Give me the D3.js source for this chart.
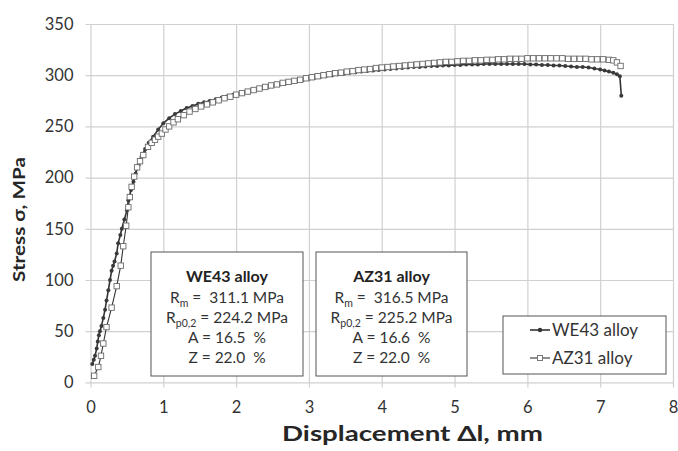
<!DOCTYPE html>
<html><head><meta charset="utf-8">
<script src="https://cdn.jsdelivr.net/npm/d3@7"></script>
<style>
html,body{margin:0;padding:0;background:#fff;}
svg{display:block;font-family:Lato,"Open Sans","DejaVu Sans",sans-serif;}
text{white-space:pre;}
</style></head>
<body>
<svg id="chart" width="678" height="451"></svg>
<script>
// ---- data ----
const xTicks = [0,1,2,3,4,5,6,7,8];
const yTicks = [0,50,100,150,200,250,300,350];
const xTitle = "Displacement Δl, mm";
const yTitle = "Stress σ, MPa";
const seriesNames = ["WE43 alloy","AZ31 alloy"];

const we43 = [
[0.025,18],[0.045,22],[0.062,26],[0.085,33],[0.10,40],[0.115,46],[0.13,50],[0.15,55],[0.176,63],[0.20,71],[0.22,80],[0.245,90],[0.268,100],[0.29,109],[0.31,114],[0.33,118],[0.36,126],[0.38,136],[0.41,144],[0.43,150],[0.465,159],[0.50,168],[0.52,178],[0.556,188],[0.59,196],[0.62,204],[0.66,212],[0.70,220],[0.75,228],[0.80,234],[0.86,240],[0.93,247],[1.00,253],
[1.08,258],[1.16,262],[1.24,265],[1.32,268],[1.40,270],[1.48,272],[1.56,273.5],[1.64,275],[1.72,276.5],[1.80,278],[1.88,279.5],[1.96,281],[2.04,282],[2.12,283.5],[2.20,285],[2.28,286],[2.36,287.5],[2.44,288.5],[2.52,290],[2.60,291],[2.68,292],[2.76,293.5],[2.84,294.5],[2.92,295.5],[3.00,296.5],[3.08,297.5],[3.16,298.5],[3.24,299.5],[3.32,300],[3.40,301],[3.48,301.5],[3.56,302.5],[3.64,303],[3.72,303.5],[3.80,304],[3.88,304.5],[3.96,305],[4.04,305.5],[4.12,306],[4.20,306.5],[4.28,307],[4.36,307.5],[4.44,308],[4.52,308],[4.60,308.5],[4.68,309],[4.76,309],[4.84,309.5],[4.92,309.5],[5.00,310],[5.08,310],[5.16,310.5],[5.24,310.5],[5.32,310.5],[5.40,311],[5.48,311],[5.56,311],[5.64,311],[5.72,311],[5.80,311],[5.88,311],[5.96,311],[6.04,310.5],[6.12,310.5],[6.20,310],[6.28,310],[6.36,309.5],[6.44,309.5],[6.52,309],[6.60,308.5],[6.68,308],[6.76,308],[6.84,307.5],[6.92,306.5],[7.00,305.5],[7.06,304.5],[7.12,303.5],[7.18,302.5],[7.23,301],[7.27,299],[7.29,280]
];

const az31 = [
[0.05,6.5],[0.107,15],[0.144,26],[0.176,38],[0.22,54],[0.29,73],[0.36,94],[0.415,114],[0.45,133],[0.49,153],[0.52,171],[0.54,181],[0.565,191],[0.60,201],[0.64,210],[0.68,216],[0.725,222],[0.79,230],[0.84,234],[0.886,237],[0.93,240],[0.98,243],[1.03,247],[1.08,250],[1.14,254],[1.20,257],
[1.28,261],[1.36,264.5],[1.44,267],[1.52,269.5],[1.60,271.5],[1.68,273.5],[1.76,275.5],[1.84,277.5],[1.92,279],[2.00,281],[2.08,282.5],[2.16,284],[2.24,285.5],[2.32,287],[2.40,288.5],[2.48,290],[2.56,291],[2.64,292.5],[2.72,293.5],[2.80,294.5],[2.88,295.5],[2.96,297],[3.04,298],[3.12,299],[3.20,300],[3.28,301],[3.36,302],[3.44,302.5],[3.52,303.5],[3.60,304],[3.68,305],[3.76,305.5],[3.84,306],[3.92,307],[4.00,307.5],[4.08,308],[4.16,308.5],[4.24,309],[4.32,309.5],[4.40,310],[4.48,310.5],[4.56,311],[4.64,311.5],[4.72,312],[4.80,312.5],[4.88,313],[4.96,313],[5.04,313.5],[5.12,314],[5.20,314],[5.28,314.5],[5.36,314.5],[5.44,315],[5.52,315],[5.60,315.5],[5.68,315.5],[5.76,316],[5.84,316],[5.92,316],[6.00,316.5],[6.08,316.5],[6.16,316.5],[6.24,316.5],[6.32,316.5],[6.40,316.5],[6.48,316.5],[6.56,316],[6.64,316],[6.72,316],[6.80,316],[6.88,315.5],[6.96,315.5],[7.04,315.5],[7.12,315],[7.18,314.5],[7.23,312.5],[7.28,309]
];

// text boxes: each line is a list of [text, isSubscript]
const we43Box = {
  title: "WE43 alloy",
  lines: [
    [["R",0],["m",1],[" =  311.1 MPa",0]],
    [["R",0],["p0,2",1],[" = 224.2 MPa",0]],
    [["A = 16.5  %",0]],
    [["Z = 22.0  %",0]]
  ]
};
const az31Box = {
  title: "AZ31 alloy",
  lines: [
    [["R",0],["m",1],[" =  316.5 MPa",0]],
    [["R",0],["p0,2",1],[" = 225.2 MPa",0]],
    [["A = 16.6  %",0]],
    [["Z = 22.0  %",0]]
  ]
};

// ---- layout ----
const svg = d3.select("#chart");
const L = 90.5, R = 673, T = 24, B = 382.4;
const x = d3.scaleLinear().domain([0,8]).range([L,R]);
const y = d3.scaleLinear().domain([0,350]).range([B,T]);
const gridColor = "#d0d0d0";
const textColor = "#333";

// gridlines + ticks via axes
const gx = svg.append("g").attr("transform",`translate(0,${B})`)
  .call(d3.axisBottom(x).tickValues(xTicks).tickSize(-(B-T)).tickFormat(d3.format("d")));
gx.select(".domain").remove();
gx.selectAll(".tick line").attr("stroke",gridColor).attr("stroke-width",1.2).attr("y2",-(B-T)).attr("y1",5);
gx.selectAll(".tick text").attr("fill",textColor).attr("font-size",16.5).attr("y",19).attr("dy","0.71em")
  .attr("font-family","Lato, sans-serif");

const gy = svg.append("g").attr("transform",`translate(${L},0)`)
  .call(d3.axisLeft(y).tickValues(yTicks).tickSize(-(R-L)).tickFormat(d3.format("d")));
gy.select(".domain").remove();
gy.selectAll(".tick line").attr("stroke",gridColor).attr("stroke-width",1.2).attr("x1",-5).attr("x2",R-L);
gy.selectAll(".tick text").attr("fill",textColor).attr("font-size",16.5).attr("x",-17)
  .attr("font-family","Lato, sans-serif");

// axis titles
svg.append("text").attr("x",282).attr("y",441).attr("font-size",21).attr("font-weight","bold")
  .attr("fill","#262626").attr("textLength",261).attr("lengthAdjust","spacingAndGlyphs").text(xTitle);
svg.append("text").attr("transform","translate(25,282) rotate(-90)").attr("font-size",17.5)
  .attr("font-weight","bold").attr("fill","#262626").attr("textLength",125)
  .attr("lengthAdjust","spacingAndGlyphs").text(yTitle);

// series
const line = d3.line().x(d=>x(d[0])).y(d=>y(d[1]));
const gS = svg.append("g");
gS.append("path").datum(we43).attr("d",line).attr("fill","none").attr("stroke","#333").attr("stroke-width",1.6);
gS.selectAll(".we").data(we43).join("circle").attr("class","we")
  .attr("cx",d=>x(d[0])).attr("cy",d=>y(d[1])).attr("r",2).attr("fill","#3a3a3a");
gS.append("path").datum(az31).attr("d",line).attr("fill","none").attr("stroke","#333").attr("stroke-width",1.1);
const sq = 5.4;
gS.selectAll(".az").data(az31).join("rect").attr("class","az")
  .attr("x",d=>x(d[0])-sq/2).attr("y",d=>y(d[1])-sq/2).attr("width",sq).attr("height",sq)
  .attr("fill","#fff").attr("stroke","#6a6a6a").attr("stroke-width",0.9);

// text boxes
function drawBox(box, x0, y0, w, h) {
  const g = svg.append("g");
  g.append("rect").attr("x",x0).attr("y",y0).attr("width",w).attr("height",h)
    .attr("fill","#fff").attr("stroke","#555").attr("stroke-width",1);
  const cx = x0 + w/2;
  g.append("text").attr("x",cx).attr("y",y0+30).attr("text-anchor","middle")
    .attr("font-size",16).attr("font-weight","bold").attr("fill","#222").text(box.title);
  box.lines.forEach((ln,i) => {
    const t = g.append("text").attr("x",cx).attr("y",y0+51+i*20).attr("text-anchor","middle")
      .attr("font-size",15.5).attr("fill",textColor);
    ln.forEach(seg => {
      const s = t.append("tspan").text(seg[0]);
      if (seg[1]) s.attr("font-size",10.5).attr("dy",4);
      else if (t.selectAll("tspan").size() > 1) s.attr("dy",-4);
    });
  });
}
drawBox(we43Box, 151, 252, 152, 124);
drawBox(az31Box, 316, 252, 151, 124);

// legend
const lg = svg.append("g");
lg.append("rect").attr("x",503).attr("y",316).attr("width",163).attr("height",58)
  .attr("fill","#fff").attr("stroke","#555").attr("stroke-width",1);
seriesNames.forEach((n,i) => {
  const yy = 330 + i*28;
  lg.append("line").attr("x1",530).attr("x2",550).attr("y1",yy).attr("y2",yy)
    .attr("stroke","#333").attr("stroke-width",i===0?1.6:1.1);
  if (i===0) {
    lg.append("circle").attr("cx",540).attr("cy",yy).attr("r",2.2).attr("fill","#333");
  } else {
    lg.append("rect").attr("x",540-2.5).attr("y",yy-2.5).attr("width",5).attr("height",5)
      .attr("fill","#fff").attr("stroke","#6a6a6a").attr("stroke-width",0.9);
  }
  lg.append("text").attr("x",552).attr("y",yy+6).attr("font-size",17).attr("fill",textColor).text(n);
});
</script>
</body></html>
